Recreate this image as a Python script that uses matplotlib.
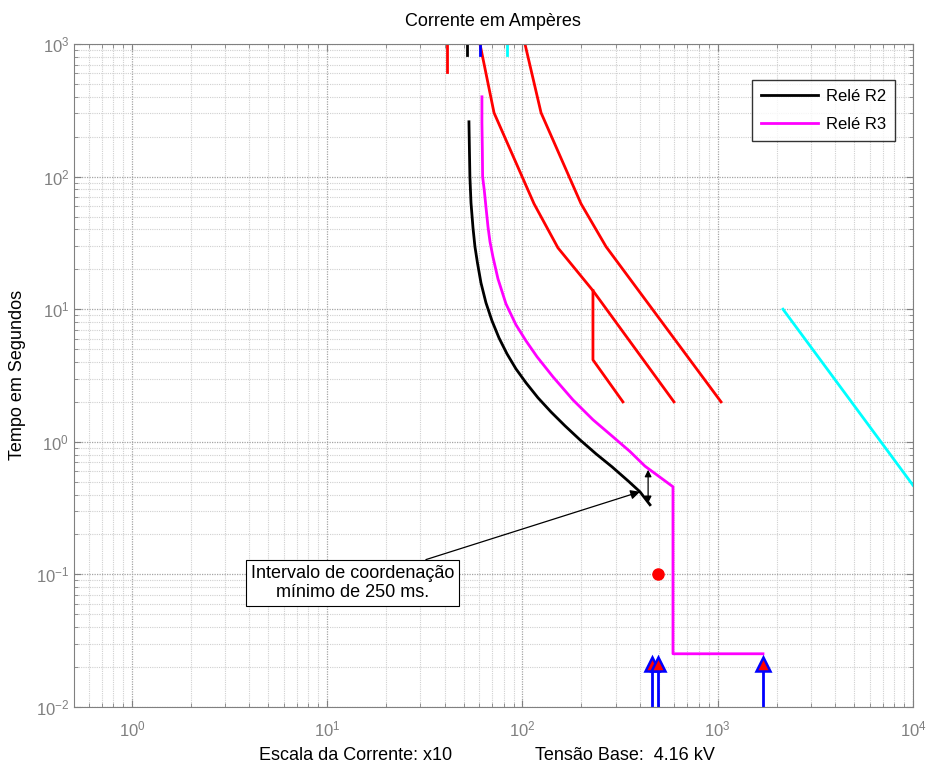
import matplotlib
matplotlib.use("Agg")
import matplotlib.pyplot as plt
from matplotlib.ticker import LogLocator, LogFormatterSciNotation, NullFormatter

plt.rcParams['font.family'] = ['Liberation Sans', 'DejaVu Sans']
plt.rcParams['mathtext.fontset'] = 'custom'
plt.rcParams['mathtext.rm'] = 'Liberation Sans'
plt.rcParams['mathtext.it'] = 'Liberation Sans'
plt.rcParams['mathtext.bf'] = 'Liberation Sans'

# ---- data (current in A x10, time in s) ----
r2_i = [53.2, 53.5, 53.8, 54.5, 55.8, 57.1, 58.8, 61.3, 65.0, 69.8, 75.8, 83.3, 92.6,
        104.2, 120.0, 140.0, 165.1, 197.0, 237.9, 287.3, 347.0, 399.6, 449.8]
r2_t = [259, 159, 99.7, 63.4, 41.1, 29.6, 22.4, 15.8, 11.2, 8.18, 6.08, 4.61, 3.55,
        2.79, 2.15, 1.68, 1.32, 1.035, 0.812, 0.648, 0.508, 0.420, 0.335]

r3_i = [62.0, 62.0, 62.3, 62.5, 63.7, 65.0, 66.6, 68.2, 70.6, 74.9, 82.3, 92.6, 104.2,
        118.7, 143.3, 181.4, 229.7, 290.8, 355.3, 424.1, 590.0, 590.0, 1705]
r3_t = [399.7, 254.5, 159.3, 99.7, 79.5, 59.2, 41.8, 32.2, 24.8, 16.96, 10.98, 7.63, 5.78,
        4.38, 3.09, 2.07, 1.466, 1.09, 0.845, 0.655, 0.458, 0.0252, 0.0252]

red1_i = [60.6, 71.5, 114.6, 152, 229.6, 597]
red1_t = [1000, 303, 62.4, 29, 13.8, 2.0]
red1b_i = [229.6, 229.6, 327]
red1b_t = [13.8, 4.15, 2.0]
red2_i = [103, 124.5, 199.5, 268, 1040]
red2_t = [1000, 303, 62.4, 29.6, 2.0]

cyan_i = [2158, 10000]
cyan_t = [10, 0.47]

top_marks_i = [41, 52, 60.6, 83.3]
top_marks_t0 = [617, 829, 829, 829]
top_marks_c = ['red', 'black', 'blue', 'cyan']

fault_i = [460, 494, 1706]
fault_t = 0.021
dot_i, dot_t = 494, 0.1

interval_top = 0.615
interval_bot = 0.345
interval_i = 440
ann_pt = (400, 0.42)
ann_txt_pos = (13.5, 0.0864)

W, H = 928, 767
fig = plt.figure(figsize=(W / 100, H / 100), dpi=100)
ax = fig.add_axes([74 / W, 1 - 707 / H, (913 - 74) / W, (707 - 44) / H])
ax.set_xscale('log')
ax.set_yscale('log')
ax.set_xlim(0.505, 1e4)
ax.set_ylim(1e-2, 1e3)

ax.grid(True, which='major', color='#a4a4a4', linestyle=(0, (1, 1)), linewidth=0.9)
ax.grid(True, which='minor', color='#d0d0d0', linestyle=(0, (1, 1)), linewidth=0.8)
ax.set_axisbelow(True)

ax.xaxis.set_major_locator(LogLocator(base=10, numticks=20))
ax.xaxis.set_minor_locator(LogLocator(base=10, subs=range(2, 10), numticks=100))
ax.yaxis.set_major_locator(LogLocator(base=10, numticks=20))
ax.yaxis.set_minor_locator(LogLocator(base=10, subs=range(2, 10), numticks=100))
ax.xaxis.set_major_formatter(LogFormatterSciNotation())
ax.yaxis.set_major_formatter(LogFormatterSciNotation())
ax.xaxis.set_minor_formatter(NullFormatter())
ax.yaxis.set_minor_formatter(NullFormatter())

tick_c = '#808080'
ax.tick_params(which='both', direction='in', top=True, right=True, colors=tick_c,
               labelcolor=tick_c, labelsize=12)
ax.tick_params(which='major', length=5, width=0.8)
ax.tick_params(which='minor', length=3, width=0.6)
ax.tick_params(axis='x', pad=9)
for s in ax.spines.values():
    s.set_color(tick_c)
    s.set_linewidth(0.8)

lw = 2
# red curves
ax.plot(red1_i, red1_t, color='red', lw=lw)
ax.plot(red1b_i, red1b_t, color='red', lw=lw)
ax.plot(red2_i, red2_t, color='red', lw=lw)
for xi, t0, c in zip(top_marks_i, top_marks_t0, top_marks_c):
    ax.plot([xi, xi], [t0, 1000], color=c, lw=lw)
ax.plot(cyan_i, cyan_t, color='cyan', lw=lw)

l2, = ax.plot(r2_i, r2_t, color='black', lw=lw, label='Relé R2')
l3, = ax.plot(r3_i, r3_t, color='magenta', lw=lw, label='Relé R3')

# fault markers
for fi in fault_i:
    ax.plot([fi, fi], [1e-2, fault_t], color='blue', lw=lw, clip_on=True)
    ax.plot([fi], [fault_t], marker='^', markersize=10, markerfacecolor='red',
            markeredgecolor='blue', markeredgewidth=1.8, linestyle='none')
ax.plot([dot_i], [dot_t], marker='o', markersize=8, color='red', linestyle='none')

# coordination interval arrow
ax.annotate('', xy=(interval_i, interval_top), xytext=(interval_i, interval_bot),
            arrowprops=dict(arrowstyle='<|-|>', color='black', lw=0.9,
                            mutation_scale=10, shrinkA=0, shrinkB=0))
ax.annotate('Intervalo de coordenação\nmínimo de 250 ms.', xy=ann_pt, xytext=ann_txt_pos,
            ha='center', va='center', fontsize=13, multialignment='center',
            bbox=dict(boxstyle='square,pad=0.25', fc='white', ec='black', lw=0.8),
            arrowprops=dict(arrowstyle='-|>', color='black', lw=0.9,
                            mutation_scale=14, shrinkA=0, shrinkB=0))

leg = ax.legend(handles=[l2, l3], loc='upper right', bbox_to_anchor=(0.9786, 0.9457),
                fontsize=12, handlelength=3.4, handletextpad=0.45, frameon=True,
                fancybox=False, borderpad=0.55, labelspacing=0.75, borderaxespad=0)
leg.get_frame().set_edgecolor('black')
leg.get_frame().set_linewidth(1.0)

fig.text(493 / W, 1 - 22 / H, 'Corrente em Ampères', ha='center', va='center', fontsize=13)
fig.text(356 / W, 1 - 755 / H, 'Escala da Corrente: x10', ha='center', va='center', fontsize=13)
fig.text(625 / W, 1 - 755 / H, 'Tensão Base:  4.16 kV', ha='center', va='center', fontsize=13)
fig.text(18 / W, 1 - 375 / H, 'Tempo em Segundos', ha='center', va='center',
         rotation=90, fontsize=13)

fig.savefig('out.png', dpi=100)
